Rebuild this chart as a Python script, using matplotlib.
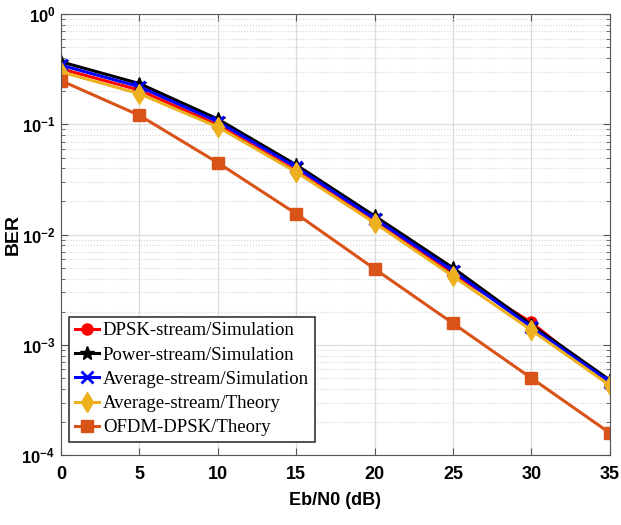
import numpy as np
import matplotlib
matplotlib.use("Agg")
import matplotlib.pyplot as plt
from matplotlib.ticker import LogLocator, NullFormatter

# Eb/N0 (dB)
ebn0 = [0, 5, 10, 15, 20, 25, 30, 35]

# BER curves
dpsk_sim = [0.32, 0.205, 0.099, 0.038, 0.0132, 0.0044, 0.00160, 0.00043]
power_sim = [0.37, 0.235, 0.112, 0.043, 0.0148, 0.0050, 0.00152, 0.00048]
avg_sim = [0.345, 0.22, 0.106, 0.041, 0.0140, 0.0047, 0.00145, 0.00046]
avg_theory = [0.30, 0.19, 0.095, 0.037, 0.0128, 0.0042, 0.00136, 0.00043]
ofdm_theory = [0.25, 0.121, 0.045, 0.0155, 0.0049, 0.00157, 0.00050, 0.000159]

labels = ['DPSK-stream/Simulation', 'Power-stream/Simulation',
          'Average-stream/Simulation', 'Average-stream/Theory',
          'OFDM-DPSK/Theory']

fig = plt.figure(figsize=(6.21, 5.25), dpi=100)
ax = fig.add_axes([0.098, 0.133, 0.884, 0.840])

ax.semilogy(ebn0, dpsk_sim, '-o', color='#FF0000', lw=2.2, ms=8, label=labels[0])
ax.semilogy(ebn0, power_sim, '-*', color='black', lw=2.2, ms=10, label=labels[1])
ax.semilogy(ebn0, avg_sim, '-x', color='#0000FF', lw=2.2, ms=8, mew=2, label=labels[2])
ax.semilogy(ebn0, avg_theory, '-d', color='#EDB120', lw=2.2, ms=10, label=labels[3])
ax.semilogy(ebn0, ofdm_theory, '-s', color='#D95319', lw=2.2, ms=8, label=labels[4])

ax.set_xlim(0, 35)
ax.set_ylim(1e-4, 1)
ax.set_xticks(range(0, 36, 5))
ax.yaxis.set_major_locator(LogLocator(base=10, numticks=10))
ax.yaxis.set_minor_locator(LogLocator(base=10, subs=np.arange(2, 10), numticks=10))
ax.yaxis.set_minor_formatter(NullFormatter())

ax.grid(True, which='major', color='#dcdcdc', lw=0.9)
ax.grid(True, which='minor', axis='y', color='#d5d5d5', lw=0.8, ls=':')
ax.tick_params(which='both', direction='in', top=True, right=True, color='#555555')
ax.tick_params(which='major', length=5, labelsize=12)
ax.tick_params(axis='x', which='major', pad=8, labelsize=13)
ax.tick_params(axis='y', which='major', pad=4)
ax.tick_params(which='minor', length=3)
for lab in ax.get_xticklabels() + ax.get_yticklabels():
    lab.set_fontweight('bold')
    lab.set_family('Liberation Sans')
for s in ax.spines.values():
    s.set_color('#555555')

ax.set_xlabel('Eb/N0 (dB)', fontsize=13, fontweight='bold', family='Liberation Sans', labelpad=6)
ax.set_ylabel('BER', fontsize=14, fontweight='bold', family='Liberation Sans')
ax.yaxis.set_label_coords(-0.072, 0.5)

leg = ax.legend(loc='lower left', bbox_to_anchor=(0.015, 0.03), fancybox=False,
                edgecolor='#333333', framealpha=1, handlelength=1.3, handletextpad=0.2,
                labelspacing=0.38, borderpad=0.3, borderaxespad=0,
                prop={'family': 'Liberation Serif', 'size': 13.5})
leg.get_frame().set_linewidth(1.2)

fig.savefig('out.png', dpi=100)
